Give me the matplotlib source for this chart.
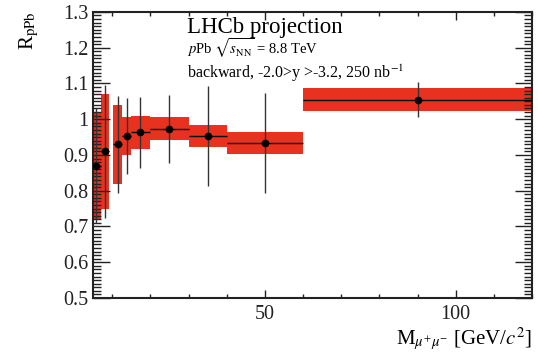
import matplotlib
matplotlib.use("Agg")
import matplotlib.pyplot as plt
from matplotlib.ticker import MultipleLocator, FixedLocator

# R_pPb vs dimuon mass
mass = [5.8, 8.2, 11.5, 13.8, 17.4, 25, 35, 50, 90]
bin_lo = [5, 7, 10.2, 12.6, 15, 20, 30, 40, 60]
bin_hi = [7, 9.3, 12.6, 15, 20, 30, 40, 60, 120]
rppb = [0.87, 0.91, 0.93, 0.953, 0.963, 0.973, 0.953, 0.933, 1.055]
stat_err = [0.16, 0.185, 0.135, 0.105, 0.10, 0.095, 0.14, 0.14, 0.05]
syst_err = [0.15, 0.16, 0.11, 0.053, 0.045, 0.032, 0.032, 0.031, 0.032]

plt.rcParams["font.family"] = ["Liberation Serif", "DejaVu Serif"]
plt.rcParams["mathtext.fontset"] = "stix"

fig = plt.figure(figsize=(5.38, 3.61), dpi=100)
ax = fig.add_axes([0.173, 0.1745, 0.816, 0.7925])

red = "#e8321f"
widths = [h - l for l, h in zip(bin_lo, bin_hi)]
bottoms = [v - s for v, s in zip(rppb, syst_err)]
heights = [2 * s for s in syst_err]
ax.bar(bin_lo, heights, width=widths, bottom=bottoms, align="edge",
       color=red, edgecolor="none", zorder=1)

xerr_lo = [m - l for m, l in zip(mass, bin_lo)]
xerr_hi = [h - m for m, h in zip(mass, bin_hi)]
ax.errorbar(mass, rppb, xerr=[xerr_lo, xerr_hi], fmt="o",
            color="black", ms=4.5, elinewidth=1.0, capsize=0, zorder=3)
# vertical stat bars look a bit greyer than the markers
ax.errorbar(mass, rppb, yerr=stat_err, fmt="none", ecolor="#333333",
            elinewidth=1.0, capsize=0, zorder=2)

ax.set_xlim(5, 120)
ax.set_ylim(0.5, 1.3)

ax.xaxis.set_major_locator(FixedLocator([50, 100]))
ax.xaxis.set_minor_locator(MultipleLocator(10))
ax.yaxis.set_minor_locator(MultipleLocator(0.01))
ax.set_yticks([0.5, 0.6, 0.7, 0.8, 0.9, 1.0, 1.1, 1.2, 1.3])
ax.set_yticklabels(["0.5", "0.6", "0.7", "0.8", "0.9", "1", "1.1", "1.2", "1.3"])

ax.tick_params(which="both", direction="in", top=True, right=True,
               labelsize=14.5, colors="#222222", width=1.0)
ax.tick_params(axis="y", which="major", length=12)
ax.tick_params(axis="y", which="minor", length=6)
ax.tick_params(axis="x", which="major", length=6)
ax.tick_params(axis="x", which="minor", length=3)
ax.tick_params(axis="x", pad=5)
for sp in ax.spines.values():
    sp.set_linewidth(1.5)
    sp.set_color("#222222")

ax.set_ylabel(r"R$_{\mathrm{pPb}}$", fontsize=15, loc="top", labelpad=16)
ax.set_xlabel(r"M$_{\mu^{+}\mu^{-}}$ [GeV/$c^{2}$]", fontsize=15, loc="right",
              labelpad=1)

ax.text(0.213, 0.925, "LHCb projection", transform=ax.transAxes, fontsize=16.5)
ax.text(0.213, 0.853, r"$p$Pb $\sqrt{s_{\mathrm{NN}}}$ = 8.8 TeV",
        transform=ax.transAxes, fontsize=10.5)
ax.text(0.213, 0.768, r"backward, -2.0>y >-3.2, 250 nb$^{-1}$",
        transform=ax.transAxes, fontsize=11.5)

fig.savefig("out.png", dpi=100)
